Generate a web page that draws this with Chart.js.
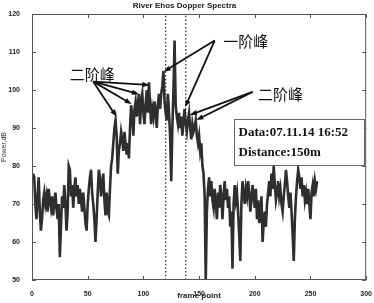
<!DOCTYPE html>
<html>
<head>
<meta charset="utf-8">
<script src="https://cdn.jsdelivr.net/npm/chart.js@4.4.0/dist/chart.umd.min.js"></script>
<style>
  html, body { margin: 0; padding: 0; background: #fff; }
  #wrap { width: 374px; height: 303px; }
</style>
</head>
<body>
<div id="wrap"><canvas id="spectra" width="374" height="303"></canvas></div>
<script>
// Doppler spectrum power (dB) per frame point
const power = [
  78, 77, 70, 66, 72, 77, 68, 63, 66, 71,
  73, 70, 72, 68, 74, 71, 69, 72, 67, 70,
  73, 69, 66, 70, 56, 64, 72, 69, 75, 70,
  63, 68, 80, 79, 72, 75, 69, 74, 77, 72,
  75, 70, 74, 71, 68, 73, 69, 65, 63, 70,
  74, 77, 79, 73, 70, 66, 60, 66, 73, 79,
  77, 72, 75, 78, 71, 67, 73, 68, 67, 74,
  80, 82, 86, 90, 92, 88, 78, 84, 86, 89,
  87, 84, 89, 86, 83, 86, 82, 90, 96, 93,
  88, 95, 97, 93, 96, 99, 91, 97, 99, 94,
  91, 96, 100, 94, 102, 96, 91, 95, 93, 97,
  94, 90, 96, 99, 95, 99, 101, 105, 97, 94,
  92, 99, 94, 88, 76, 90, 100, 113, 96, 93,
  91, 94, 90, 93, 88, 92, 95, 91, 89, 92,
  94, 90, 87, 91, 89, 90, 92, 88, 86, 88,
  84, 86, 80, 78, 72, 50, 68, 74, 77, 72,
  76, 71, 69, 74, 70, 66, 73, 69, 75, 72,
  66, 72, 76, 71, 74, 69, 72, 64, 68, 53,
  70, 75, 71, 73, 68, 62, 55, 70, 76, 73,
  70, 74, 72, 76, 73, 68, 71, 75, 72, 69,
  74, 66, 71, 65, 68, 72, 60, 65, 68, 64,
  70, 73, 76, 72, 78, 74, 80, 75, 71, 73,
  76, 72, 74, 70, 68, 72, 75, 79, 76, 72,
  69, 73, 68, 62, 55, 66, 72, 76, 79, 77,
  74, 77, 72, 75, 71, 73, 70, 74, 70, 66,
  73, 75, 72, 76, 74, 76
];
const frames = power.map((_, i) => i + 1);

// dotted markers (frame points) bounding the first-order peak zone
const markers = [120, 138];

const xTicks = [0, 50, 100, 150, 200, 250, 300];
const yTicks = [50, 60, 70, 80, 90, 100, 110, 120];

// annotation labels and arrows, in data units
const notes = [
  { text: "二阶峰", at: [54, 104.2], from: [55, 102.2],
    tips: [[105.5, 101.3], [96, 98.9], [89.5, 96.3], [75.8, 93.0]] },
  { text: "一阶峰", at: [192, 112.9], from: [164, 113],
    tips: [[118.2, 104.8], [137.5, 95.5]] },
  { text: "二阶峰", at: [223, 99], from: [198, 99.5],
    tips: [[141.6, 93.4], [147.6, 92.1]] }
];
const infoLines = ["Data:07.11.14 16:52", "Distance:150m"];

const INK = "#2e2e2e";

function arrow(ctx, x0, y0, x1, y1) {
  const a = Math.atan2(y1 - y0, x1 - x0);
  const len = 7, w = 2.6;
  ctx.beginPath();
  ctx.moveTo(x0, y0);
  ctx.lineTo(x1 - Math.cos(a) * len * 0.8, y1 - Math.sin(a) * len * 0.8);
  ctx.stroke();
  ctx.beginPath();
  ctx.moveTo(x1, y1);
  ctx.lineTo(x1 - Math.cos(a) * len + Math.sin(a) * w, y1 - Math.sin(a) * len - Math.cos(a) * w);
  ctx.lineTo(x1 - Math.cos(a) * len - Math.sin(a) * w, y1 - Math.sin(a) * len + Math.cos(a) * w);
  ctx.closePath();
  ctx.fill();
}

const matlabFrame = {
  id: "matlabFrame",
  afterDraw(chart) {
    const { ctx, chartArea: a, scales: { x, y } } = chart;
    ctx.save();
    // box and inward ticks
    ctx.strokeStyle = "#555";
    ctx.lineWidth = 1;
    ctx.strokeRect(a.left + 0.5, a.top + 0.5, a.right - a.left - 1, a.bottom - a.top - 1);
    ctx.beginPath();
    xTicks.forEach((v) => {
      const px = Math.round(x.getPixelForValue(v)) + 0.5;
      ctx.moveTo(px, a.bottom); ctx.lineTo(px, a.bottom - 4);
      ctx.moveTo(px, a.top); ctx.lineTo(px, a.top + 4);
    });
    yTicks.forEach((v) => {
      const py = Math.round(y.getPixelForValue(v)) + 0.5;
      ctx.moveTo(a.left, py); ctx.lineTo(a.left + 4, py);
      ctx.moveTo(a.right, py); ctx.lineTo(a.right - 4, py);
    });
    ctx.stroke();

    // arrows and labels
    ctx.strokeStyle = "#111";
    ctx.fillStyle = "#111";
    ctx.lineWidth = 1.8;
    notes.forEach((n) => {
      const fx = x.getPixelForValue(n.from[0]), fy = y.getPixelForValue(n.from[1]);
      n.tips.forEach((t) => arrow(ctx, fx, fy, x.getPixelForValue(t[0]), y.getPixelForValue(t[1])));
    });
    ctx.font = '15px "Noto Sans CJK SC"';
    ctx.textAlign = "center";
    ctx.textBaseline = "middle";
    notes.forEach((n) => {
      ctx.fillText(n.text, x.getPixelForValue(n.at[0]), y.getPixelForValue(n.at[1]));
    });

    // info box
    const bx = x.getPixelForValue(181), by = y.getPixelForValue(92.4);
    const bw = x.getPixelForValue(298) - bx, bh = y.getPixelForValue(80.2) - by;
    ctx.fillStyle = "#fff";
    ctx.fillRect(bx, by, bw, bh);
    ctx.strokeStyle = "#666";
    ctx.lineWidth = 1;
    ctx.strokeRect(Math.round(bx) + 0.5, Math.round(by) + 0.5, Math.round(bw), Math.round(bh));
    ctx.fillStyle = "#111";
    ctx.font = 'bold 13px "Liberation Serif"';
    ctx.textAlign = "left";
    ctx.fillText(infoLines[0], bx + 5, by + bh * 0.29);
    ctx.fillText(infoLines[1], bx + 5, by + bh * 0.73);
    ctx.restore();
  }
};

const markerSets = markers.map((m) => ({
  data: [{ x: m, y: 50 }, { x: m, y: 120 }],
  borderColor: "#333",
  borderWidth: 1.3,
  borderDash: [1.5, 2.2],
  pointRadius: 0
}));

new Chart(document.getElementById("spectra"), {
  type: "line",
  data: {
    datasets: [
      {
        data: frames.map((f, i) => ({ x: f, y: power[i] })),
        borderColor: INK,
        borderWidth: 2.6,
        pointRadius: 0,
        tension: 0
      },
      ...markerSets
    ]
  },
  options: {
    responsive: false,
    animation: false,
    layout: { padding: { right: 5 } },
    plugins: {
      legend: { display: false },
      tooltip: { enabled: false },
      title: {
        display: true,
        text: "River Ehos Dopper Spectra",
        color: "#222",
        font: { family: "Arial", size: 8, weight: "bold" },
        padding: { top: 1, bottom: 3.4 }
      }
    },
    scales: {
      x: {
        type: "linear",
        min: 0,
        max: 300,
        afterBuildTicks: (s) => { s.ticks = xTicks.map((v) => ({ value: v })); },
        afterFit: (s) => { s.height = 23; },
        grid: { display: false },
        border: { display: false },
        ticks: { color: "#222", padding: 2, maxRotation: 0, font: { family: "Arial", size: 7, weight: "bold" } },
        title: { display: true, text: "frame point", color: "#222", padding: { top: 0, bottom: 2 },
          font: { family: "Arial", size: 8, weight: "bold" } }
      },
      y: {
        min: 50,
        max: 120,
        afterBuildTicks: (s) => { s.ticks = yTicks.map((v) => ({ value: v })); },
        afterFit: (s) => { s.width = 32; },
        grid: { display: false },
        border: { display: false },
        ticks: { color: "#222", padding: 4, font: { family: "Arial", size: 7, weight: "bold" } },
        title: { display: true, text: "Power,dB", color: "#333", padding: 0,
          font: { family: "Arial", size: 7 } }
      }
    }
  },
  plugins: [matlabFrame]
});
</script>
</body>
</html>
